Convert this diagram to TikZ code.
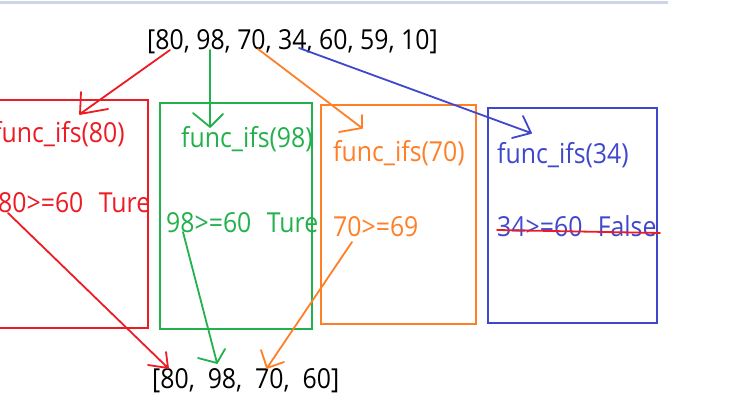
\documentclass[tikz,border=0pt]{standalone}
\usepackage{fontspec}
\setmainfont{Open Sans}
\usepackage{graphicx}
\definecolor{pred}{HTML}{ED1C24}
\definecolor{pgreen}{HTML}{22B14C}
\definecolor{porange}{HTML}{FF7F27}
\definecolor{pblue}{HTML}{3F48CC}
\definecolor{topline}{HTML}{CDD5E6}
\newcommand{\nt}[1]{\scalebox{0.92}[1.02]{#1}}
\newcommand{\dsp}{\hspace{0.62em}}
\tikzset{
  box/.style={draw, line width=2pt},
  lbl/.style={inner sep=0pt, anchor=base west, font=\fontsize{27}{30}\selectfont},
  pen/.style={line width=1.8pt, line cap=round, line join=round},
}
\begin{document}
\begin{tikzpicture}[x=1pt, y=-1pt]
\useasboundingbox (0,0) rectangle (751,419);
\clip (0,0) rectangle (751,419);
\fill[white] (0,0) rectangle (751,419);
% top rule
\coordinate (tl1) at (0,2.5);
\coordinate (tl2) at (668,2.5);
\draw[topline, line width=3pt] (tl1) -- (tl2);

% boxes
\node[box, pred, minimum width=168pt, minimum height=228pt, inner sep=0pt] (bred) at (64,214) {};
\node[box, pgreen, minimum width=152pt, minimum height=226pt, inner sep=0pt] (bgreen) at (236,216) {};
\node[box, porange, minimum width=155pt, minimum height=219pt, inner sep=0pt] (borange) at (398.5,214.5) {};
\node[box, pblue, minimum width=169pt, minimum height=215pt, inner sep=0pt] (bblue) at (572.5,215.5) {};

% texts
\node[lbl] (top) at (147,50) {\nt{[80, 98, 70, 34, 60, 59, 10]}};
\node[lbl] (bottom) at (152,388) {\nt{[80,\ \ 98,\ \ 70,\ \ 60]}};

\node[lbl, text=pred] (f80) at (-7,143) {\nt{func\_ifs(80)}};
\node[lbl, text=pred] (c80) at (-2,213) {\nt{80>=60\dsp Ture}};
\node[lbl, text=pgreen] (f98) at (181,148) {\nt{func\_ifs(98)}};
\node[lbl, text=pgreen] (c98) at (166,233) {\nt{98>=60\dsp Ture}};
\node[lbl, text=porange] (f70) at (333,162) {\nt{func\_ifs(70)}};
\node[lbl, text=porange] (c70) at (333,237) {\nt{70>=69}};
\node[lbl, text=pblue] (f34) at (497,164) {\nt{func\_ifs(34)}};
\node[lbl, text=pblue] (c34) at (497,237) {\nt{34>=60\dsp False}};

% strike-through
\coordinate (s1) at (497,230);
\coordinate (s2) at (660,233);
\draw[pen, pred] (s1) -- (s2);

% top arrows
\coordinate (ra) at (170,50);  \coordinate (rt) at (80,114);
\coordinate (rb1) at (81,92);  \coordinate (rb2) at (108,109);
\draw[pen, pred] (ra) -- (rt) (rb1) -- (rt) -- (rb2);

\coordinate (ga) at (210,50);  \coordinate (gt) at (210,127);
\coordinate (gb1) at (193,113); \coordinate (gb2) at (223,114);
\draw[pen, pgreen] (ga) -- (gt) (gb1) -- (gt) -- (gb2);

\coordinate (oa) at (258,49);  \coordinate (ot) at (362,128);
\coordinate (ob1) at (362,115); \coordinate (ob2) at (339,132);
\draw[pen, porange] (oa) -- (ot) (ob1) -- (ot) -- (ob2);

\coordinate (ba) at (299,48);  \coordinate (bt) at (531,133);
\coordinate (bb1) at (523,116); \coordinate (bb2) at (512,138);
\draw[pen, pblue] (ba) -- (bt) (bb1) -- (bt) -- (bb2);

% bottom arrows
\coordinate (rc) at (8,213);  \coordinate (rd) at (168,368);
\coordinate (rd1) at (166,352); \coordinate (rd2) at (148,365);
\draw[pen, pred] (rc) -- (rd) (rd1) -- (rd) -- (rd2);

\coordinate (gc) at (183,232);  \coordinate (gd) at (217,363);
\coordinate (gd1) at (198,358); \coordinate (gd2) at (225,349);
\draw[pen, pgreen] (gc) -- (gd) (gd1) -- (gd) -- (gd2);

\coordinate (oc) at (352,242);  \coordinate (od) at (267,368);
\coordinate (od1) at (261,350); \coordinate (od2) at (284,362);
\draw[pen, porange] (oc) -- (od) (od1) -- (od) -- (od2);
\end{tikzpicture}
\end{document}
